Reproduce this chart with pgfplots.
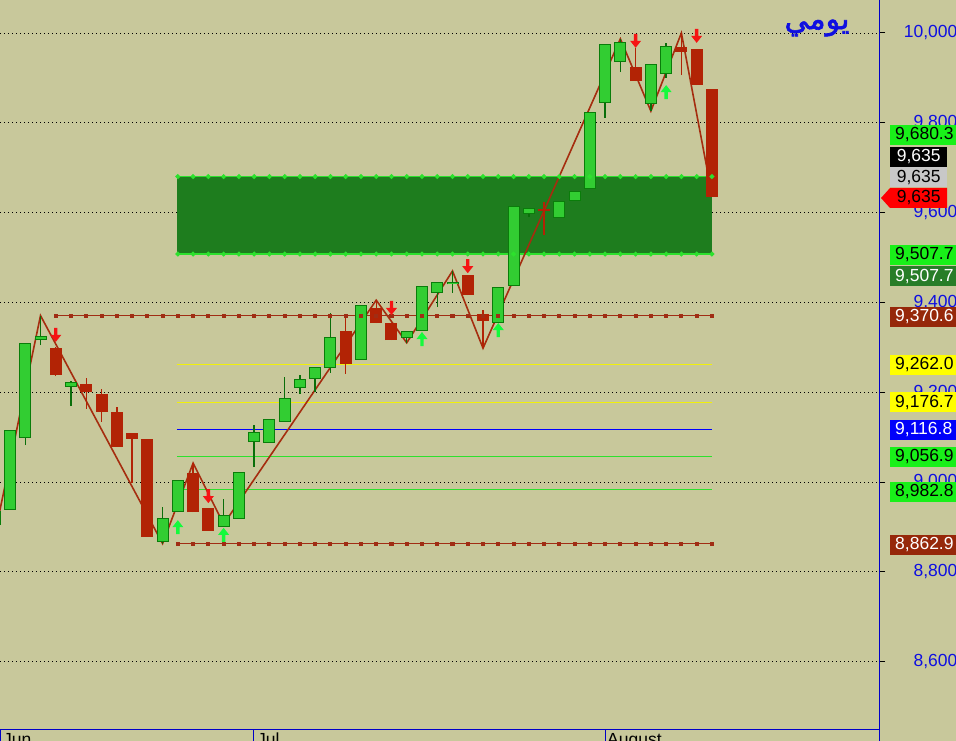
\documentclass[border=0pt]{standalone}
\usepackage{pgfplots}
\pgfplotsset{compat=1.18}
\usepackage{pgfplotstable}
\usepackage{fontspec}
\setmainfont{Liberation Sans}
\newfontfamily\arabicfont[Script=Arabic,FakeBold=2]{DejaVu Sans}
\TeXXeTstate=1

\definecolor{bg}{RGB}{200,200,155}
\definecolor{candlegreen}{RGB}{50,205,50}
\definecolor{rimgreen}{RGB}{10,125,10}
\definecolor{wickgreen}{RGB}{10,110,10}
\definecolor{candlered}{RGB}{178,35,5}
\definecolor{zigzag}{RGB}{165,45,15}
\definecolor{levelbrown}{RGB}{160,45,20}
\definecolor{zonegreen}{RGB}{30,125,30}
\definecolor{zoneedge}{RGB}{45,225,45}
\definecolor{lvlyellow}{RGB}{240,240,10}
\definecolor{lvlblue}{RGB}{0,0,255}
\definecolor{lvlgreen}{RGB}{45,225,45}
\definecolor{arrowred}{RGB}{245,20,20}
\definecolor{arrowgreen}{RGB}{20,250,60}
\definecolor{axisblue}{RGB}{0,0,200}
\definecolor{labelblue}{RGB}{15,15,225}
\definecolor{taglime}{RGB}{25,240,25}
\definecolor{tagdkgreen}{RGB}{40,125,40}
\definecolor{tagbrown}{RGB}{150,40,10}
\definecolor{tagyellow}{RGB}{255,255,0}
\definecolor{tagblue}{RGB}{0,0,250}
\definecolor{taggray}{RGB}{200,200,200}
\definecolor{tagred}{RGB}{255,0,0}

\newcommand\tagfont{\fontsize{17.5}{20}\selectfont}

% signal arrows, tip at the data point
\pgfdeclareplotmark{sigdown}{%
  \pgfpathmoveto{\pgfpoint{0pt}{0pt}}%
  \pgfpathlineto{\pgfpoint{5.5pt}{7pt}}%
  \pgfpathlineto{\pgfpoint{1.7pt}{7pt}}%
  \pgfpathlineto{\pgfpoint{1.7pt}{14pt}}%
  \pgfpathlineto{\pgfpoint{-1.7pt}{14pt}}%
  \pgfpathlineto{\pgfpoint{-1.7pt}{7pt}}%
  \pgfpathlineto{\pgfpoint{-5.5pt}{7pt}}%
  \pgfpathclose\pgfusepathqfill}
\pgfdeclareplotmark{sigup}{%
  \pgfpathmoveto{\pgfpoint{0pt}{0pt}}%
  \pgfpathlineto{\pgfpoint{5.5pt}{-7pt}}%
  \pgfpathlineto{\pgfpoint{1.7pt}{-7pt}}%
  \pgfpathlineto{\pgfpoint{1.7pt}{-14pt}}%
  \pgfpathlineto{\pgfpoint{-1.7pt}{-14pt}}%
  \pgfpathlineto{\pgfpoint{-1.7pt}{-7pt}}%
  \pgfpathlineto{\pgfpoint{-5.5pt}{-7pt}}%
  \pgfpathclose\pgfusepathqfill}

% daily sessions: open high low close
\pgfplotstableread{
k o h l c
1 8905 8940 8895 8935
2 8938 9116 8938 9116
3 9098 9310 9082 9310
4 9316 9370.6 9305 9325
6 9212 9225 9169 9223
12 8866 8944 8862.9 8920
13 8933 9004 8933 9004
16 8900 8962 8900 8927
17 8918 9022 8918 9022
18 9089 9127 9033 9111
19 9087 9140 9087 9140
20 9134 9234 9134 9187
21 9209 9238 9196 9229
22 9229 9256 9200 9256
23 9254 9376 9243 9323
25 9272 9394 9272 9394
28 9321 9336 9310 9336
29 9336 9437 9336 9437
30 9421 9445 9390 9445
31 9440 9470 9421 9446
34 9354 9434 9354 9434
35 9437 9615 9437 9615
36 9597 9610 9590 9610
38 9588 9626 9588 9626
39 9626 9648 9626 9648
40 9653 9824 9653 9824
41 9844 9976 9811 9976
42 9935 9987 9913 9980
44 9842 9931 9826 9931
45 9909 9978 9900 9971
}\upbars

\pgfplotstableread{
k o h l c
5 9298 9300 9236 9238
7 9218 9232 9163 9200
8 9196 9207 9134 9156
9 9156 9167 9078 9078
10 9109 9109 8998 9096
11 9096 9096 8878 8878
14 9020 9042 8933 8933
15 8942 8942 8891 8891
24 9336 9372 9241 9263
26 9388 9405 9354 9354
27 9354 9354 9316 9316
32 9461 9461 9416 9416
33 9374 9383 9298 9359
37 9608 9624 9550 9604
43 9924 9967 9893 9893
46 9969 10000 9906 9958
47 9964 9964 9884 9884
48 9875 9875 9635 9635
}\downbars

% session positions (k) and day count used for the dotted level markers
\pgfplotstableread{
k n
5 5
6 6
7 7
8 8
9 9
10 10
11 11
12 12
13 13
14 14
15 15
16 16
17 17
18 18
19 19
20 20
21 21
22 22
23 23
24 24
25 25
26 26
27 27
28 28
29 29
30 30
31 31
32 32
33 33
34 34
35 35
36 36
37 37
38 38
39 39
40 40
41 41
42 42
43 43
44 44
45 45
46 46
47 47
48 48
}\sessions

\tikzset{
  tag/.style={anchor=west, inner xsep=5pt, inner ysep=0pt, minimum height=20pt,
    font=\tagfont, text=black},
  longtag/.style={tag, text width=70pt, align=left},
  shorttag/.style={tag, minimum width=57pt},
}
\pgfplotsset{
  candle/.style={draw=none, mark=none, forget plot,
    error bars/.cd, y dir=plus, y explicit, error mark=none},
}

\begin{document}
\begin{tikzpicture}[x=1pt,y=1pt]
\fill[bg] (0,-11) rectangle (956,730);
\begin{axis}[
  at={(0,0)}, anchor=south west,
  width=879pt, height=730pt, scale only axis,
  xmin=1.345, xmax=58.95, ymin=8447.7, ymax=10073.5,
  axis x line*=bottom, axis y line*=right,
  axis line style={draw=axisblue, line width=1pt, -},
  xtick=\empty,
  ytick={8600,8800,9000,9200,9400,9600,9800,10000},
  yticklabels={}, scaled y ticks=false,
  ymajorgrids,
  grid style={draw=black, line width=0.9pt, dash pattern=on 0.9pt off 3.1pt},
  tick align=outside, major tick length=6pt,
  tick style={black, line width=1pt},
  clip=false,
]
% support / resistance zone
\addplot [fill=zonegreen, draw=none] coordinates
  {(12.94,9507.7) (48,9507.7) (48,9680.3) (12.94,9680.3)};
\addplot [zoneedge, line width=1.5pt, mark=*, mark size=1.6pt,
  restrict x to domain=13:48] table [x=k, y expr=9680.3] {\sessions};
\addplot [zoneedge, line width=1.5pt, mark=*, mark size=1.6pt,
  restrict x to domain=13:48] table [x=k, y expr=9507.7] {\sessions};
% retracement levels
\addplot [lvlyellow, line width=1.2pt] coordinates {(12.94,9262.0) (48,9262.0)};
\addplot [lvlyellow, line width=1.2pt] coordinates {(12.94,9176.7) (48,9176.7)};
\addplot [lvlblue, line width=1.5pt] coordinates {(12.94,9116.8) (48,9116.8)};
\addplot [lvlgreen, line width=1.2pt] coordinates {(12.94,9056.9) (48,9056.9)};
\addplot [lvlgreen, line width=1.2pt] coordinates {(12.94,8982.8) (48,8982.8)};
% swing high / swing low
\addplot [levelbrown, line width=1.3pt, mark=square*, mark size=1.4pt]
  table [x=k, y expr=9370.6] {\sessions};
\addplot [levelbrown, line width=1.3pt, mark=square*, mark size=1.4pt,
  restrict x to domain=13:48] table [x=k, y expr=8862.9] {\sessions};
% zigzag swings
\addplot [zigzag, line width=1.6pt] coordinates {
  (1,8882) (4,9370.6) (12,8862.9) (14,9042) (16,8906) (26,9405) (28,9310)
  (31,9470) (33,9298) (42,9987) (44,9826) (46,10000) (48,9640)};
% wicks
\addplot [candle, error bar style={draw=wickgreen, line width=1.4pt, solid}]
  table [x=k, y=l, y error expr=\thisrow{h}-\thisrow{l}] {\upbars};
\addplot [candle, error bar style={draw=candlered, line width=1.4pt, solid}]
  table [x=k, y=l, y error expr=\thisrow{h}-\thisrow{l}] {\downbars};
% bodies
\addplot [candle, error bar style={draw=rimgreen, line width=12pt, solid}]
  table [x=k, y=o, y error expr=\thisrow{c}-\thisrow{o}] {\upbars};
\addplot [candle, error bar style={draw=candlegreen, line width=10pt, solid,
  shorten <=1pt, shorten >=1pt}]
  table [x=k, y=o, y error expr=\thisrow{c}-\thisrow{o}] {\upbars};
\addplot [candle, error bar style={draw=candlered, line width=12pt, solid}]
  table [x=k, y=c, y error expr=\thisrow{o}-\thisrow{c}] {\downbars};
% signals
\addplot [only marks, mark=sigdown, color=arrowred] coordinates
  {(5,9312) (15,8953) (27,9372) (32,9465) (43,9967) (47,9978)};
\addplot [only marks, mark=sigup, color=arrowgreen] coordinates
  {(13,8915) (16,8898) (29,9334) (34,9354) (45,9884)};
% price scale
\node[anchor=east, text=labelblue, font=\tagfont] at (axis cs:64.32,10000) {10,000};
\node[anchor=east, text=labelblue, font=\tagfont] at (axis cs:64.32,9800) {9,800};
\node[anchor=east, text=labelblue, font=\tagfont] at (axis cs:64.32,9600) {9,600};
\node[anchor=east, text=labelblue, font=\tagfont] at (axis cs:64.32,9400) {9,400};
\node[anchor=east, text=labelblue, font=\tagfont] at (axis cs:64.32,9200) {9,200};
\node[anchor=east, text=labelblue, font=\tagfont] at (axis cs:64.32,9000) {9,000};
\node[anchor=east, text=labelblue, font=\tagfont] at (axis cs:64.32,8800) {8,800};
\node[anchor=east, text=labelblue, font=\tagfont] at (axis cs:64.32,8600) {8,600};
\end{axis}

% right-hand axis line continues down to the date strip
\draw[axisblue, line width=1pt] (879,-11) -- (879,730);
% date strip
\draw[axisblue, line width=1pt] (0.5,-11) -- (0.5,0);
\draw[axisblue, line width=1pt] (253,-11) -- (253,0);
\draw[axisblue, line width=1pt] (605,-11) -- (605,0);
\node[anchor=base west, inner sep=0pt, font=\tagfont] at (3,-15.5) {Jun};
\node[anchor=base west, inner sep=0pt, font=\tagfont] at (257,-15.5) {Jul};
\node[anchor=base west, inner sep=0pt, font=\tagfont] at (607,-15.5) {August};

% title
\node[text=labelblue, font=\fontsize{30}{34}\selectfont, inner sep=0pt] at (817,702)
  {\arabicfont\beginR يومي\endR};

% value tags
\node[longtag, fill=taglime] at (890,595) {9,680.3};
\node[shorttag, fill=black, text=white] at (890,573) {9,635};
\node[shorttag, fill=taggray] at (890,552.5) {9,635};
\fill[tagred] (881,532) -- (890,542) -- (947,542) -- (947,522) -- (890,522) -- cycle;
\node[shorttag] at (890,532) {9,635};
\node[longtag, fill=taglime] at (890,475) {9,507.7};
\node[longtag, fill=tagdkgreen, text=white] at (890,453.5) {9,507.7};
\node[longtag, fill=tagbrown, text=white] at (890,413) {9,370.6};
\node[longtag, fill=tagyellow] at (890,365) {9,262.0};
\node[longtag, fill=tagyellow] at (890,327.5) {9,176.7};
\node[longtag, fill=tagblue, text=white] at (890,300) {9,116.8};
\node[longtag, fill=taglime] at (890,273) {9,056.9};
\node[longtag, fill=taglime] at (890,238) {8,982.8};
\node[longtag, fill=tagbrown, text=white] at (890,185) {8,862.9};

\pgfresetboundingbox
\path (0,-11) rectangle (956,730);
\end{tikzpicture}
\end{document}
